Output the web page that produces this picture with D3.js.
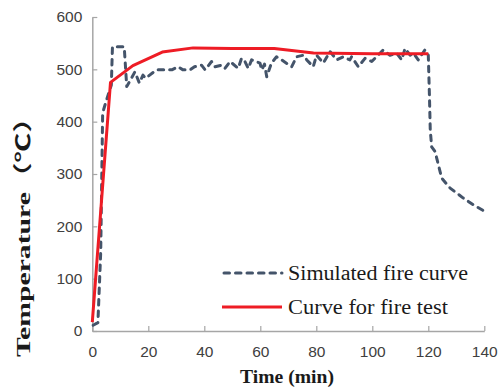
<!DOCTYPE html>
<html>
<head>
<meta charset="utf-8">
<script src="https://cdn.jsdelivr.net/npm/d3@7"></script>
<style>
  html, body { margin: 0; padding: 0; background: #fff; }
  svg { display: block; }
</style>
</head>
<body>
<svg id="chart" width="503" height="391"></svg>
<script>
// ---- data ----
const xTicks = [0, 20, 40, 60, 80, 100, 120, 140];
const yTicks = [0, 100, 200, 300, 400, 500, 600];

const simTime = [0.3, 2, 3, 3.7, 5, 6.8, 7.2, 11.4, 12.3, 15.2, 16.8, 18.1, 19, 23, 28.4, 30.6, 32.4, 34.9, 36.5, 39, 40.3, 42.6, 43.8, 46.2, 47.4, 49.2, 52.1, 53.3, 54.5, 55.7, 56.9, 59.9, 60.5, 61.5, 62.3, 64, 65.8, 67.6, 71.2, 73, 75.4, 76.6, 78.9, 80.1, 82.5, 84.9, 87.3, 89.6, 92, 92.6, 95, 97.4, 99.8, 103.9, 106.3, 108.7, 110.5, 111.7, 113.5, 114.7, 116.4, 118.8, 120, 120.4, 120.7, 121.2, 122.4, 124.8, 127.8, 132.5, 136.1, 140.3];
const simTemp = [11, 16, 150, 417, 440, 470, 543, 543, 467, 495, 474, 489, 483, 499, 499, 505, 499, 499, 505, 508, 499, 515, 505, 508, 502, 515, 502, 521, 515, 502, 518, 512, 499, 510, 486, 512, 524, 518, 505, 524, 527, 518, 505, 527, 512, 534, 518, 524, 518, 524, 505, 521, 515, 537, 527, 531, 518, 540, 527, 531, 518, 537, 527, 451, 384, 352, 343, 292, 273, 254, 241, 228];

const testTime = [0, 6.5, 14.5, 25, 36, 50, 65, 79, 100, 120];
const testTemp = [17, 475, 507, 533, 541, 540, 540, 531, 530, 530];

const legendLabels = ["Simulated fire curve", "Curve for fire test"];

// ---- layout ----
const svg = d3.select("#chart");
const x = d3.scaleLinear().domain([0, 140]).range([92.3, 484.3]);
const y = d3.scaleLinear().domain([0, 600]).range([331, 17]);

const axisColor = "#a6a6a6";
const labelColor = "#404040";

// x axis
const gx = svg.append("g").attr("transform", `translate(0,${y(0)})`)
  .call(d3.axisBottom(x).tickValues(xTicks).tickSizeInner(-5).tickSizeOuter(0).tickPadding(15));
gx.select(".domain").attr("stroke", axisColor).attr("stroke-width", 1.5);
gx.selectAll(".tick line").attr("stroke", axisColor).attr("stroke-width", 1.2);
gx.selectAll(".tick text").attr("fill", labelColor)
  .style("font-family", "'Liberation Sans', Arial, sans-serif").style("font-size", "15.5px");

// y axis
const gy = svg.append("g").attr("transform", `translate(${x(0)},0)`)
  .call(d3.axisLeft(y).tickValues(yTicks).tickSizeInner(-5).tickSizeOuter(0).tickPadding(10));
gy.select(".domain").attr("stroke", axisColor).attr("stroke-width", 1.5);
gy.selectAll(".tick line").attr("stroke", axisColor).attr("stroke-width", 1.2);
gy.selectAll(".tick text").attr("fill", labelColor)
  .style("font-family", "'Liberation Sans', Arial, sans-serif").style("font-size", "15.5px");

// lines
const simData = simTime.map((t, i) => [t, simTemp[i]]);
const testData = testTime.map((t, i) => [t, testTemp[i]]);
const line = d3.line().x(d => x(d[0])).y(d => y(d[1]));

svg.append("path").datum(simData)
  .attr("d", line).attr("fill", "none")
  .attr("stroke", "#44546a").attr("stroke-width", 3)
  .attr("stroke-dasharray", "5.5,6").attr("stroke-linecap", "round")
  .attr("stroke-linejoin", "round");

svg.append("path").datum(testData)
  .attr("d", line).attr("fill", "none")
  .attr("stroke", "#ee1c25").attr("stroke-width", 3)
  .attr("stroke-linejoin", "round");

// axis titles
svg.append("text").attr("x", 287).attr("y", 383)
  .attr("text-anchor", "middle")
  .attr("textLength", 94).attr("lengthAdjust", "spacingAndGlyphs")
  .style("font-family", "'Liberation Serif', 'Times New Roman', serif")
  .style("font-weight", "bold").style("font-size", "19px").attr("fill", "#1a1a1a")
  .text("Time (min)");

svg.append("text")
  .attr("transform", "translate(30,230) rotate(-90)")
  .attr("text-anchor", "middle")
  .attr("textLength", 254).attr("lengthAdjust", "spacingAndGlyphs")
  .style("font-family", "'Liberation Serif', 'Times New Roman', 'Noto Sans CJK SC', serif")
  .style("font-weight", "bold").style("font-size", "19px").attr("fill", "#1a1a1a")
  .text("Temperature（℃）");

// legend
const legend = svg.append("g");
const legendY = [273, 307];
const legendW = [180, 160];
legend.append("line").attr("x1", 224).attr("x2", 282).attr("y1", legendY[0]).attr("y2", legendY[0])
  .attr("stroke", "#44546a").attr("stroke-width", 3)
  .attr("stroke-dasharray", "5.5,6").attr("stroke-linecap", "round");
legend.append("line").attr("x1", 222).attr("x2", 282).attr("y1", legendY[1]).attr("y2", legendY[1])
  .attr("stroke", "#ee1c25").attr("stroke-width", 3);
legendLabels.forEach((lab, i) => {
  legend.append("text").attr("x", 288).attr("y", legendY[i] + 6.5)
    .attr("textLength", legendW[i]).attr("lengthAdjust", "spacingAndGlyphs")
    .style("font-family", "'Liberation Serif', 'Times New Roman', serif")
    .style("font-size", "20px").attr("fill", "#1a1a1a")
    .text(lab);
});
</script>
</body>
</html>
